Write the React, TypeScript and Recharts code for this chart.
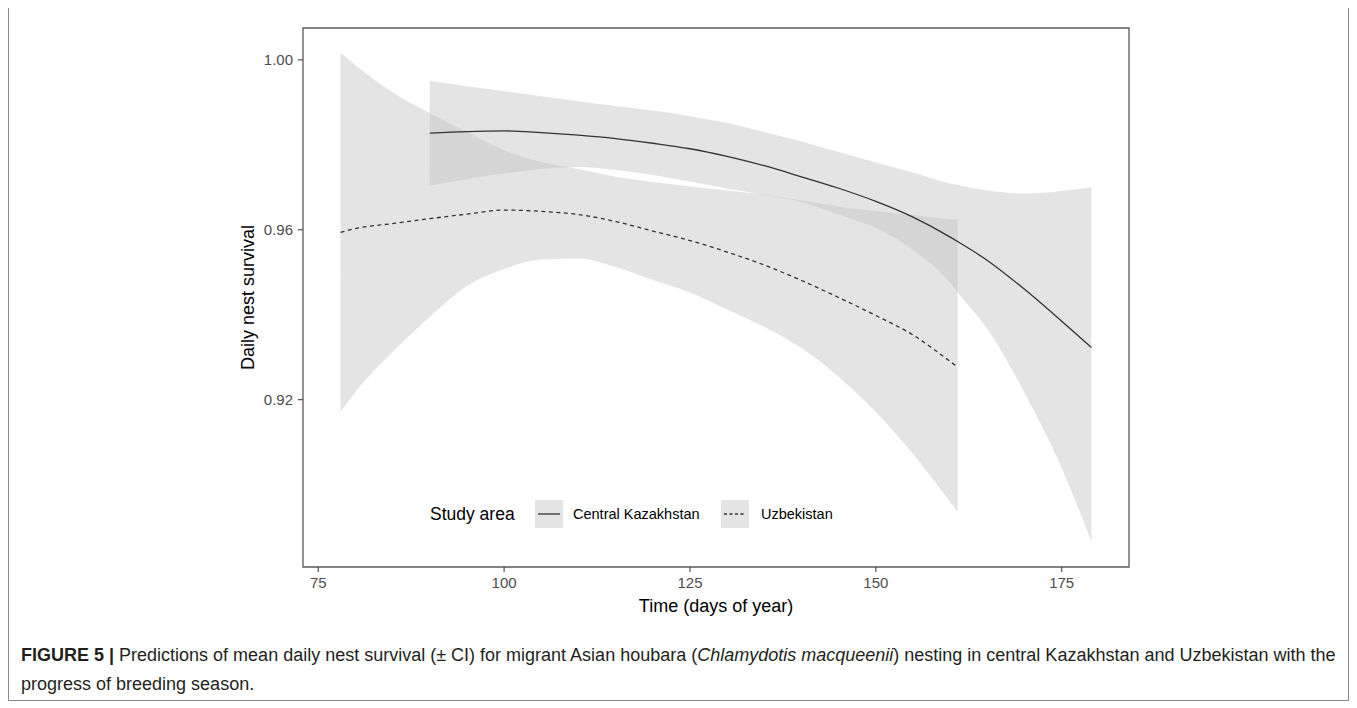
import React from 'react';
import { ComposedChart, Area, Line, XAxis, YAxis, ReferenceArea, Legend } from 'recharts';

// Central Kazakhstan: day of year, fitted daily nest survival, CI bounds
const kazDays = [90, 95, 100, 105, 110, 115, 120, 125, 130, 135, 140, 145, 150, 155, 160, 161, 165, 170, 175, 179];
const kazFit = [0.98275, 0.98311, 0.98327, 0.98287, 0.98227, 0.98147, 0.98037, 0.97907, 0.97727, 0.97507, 0.97247, 0.96977, 0.96667, 0.96297, 0.95827, 0.95722, 0.95277, 0.94597, 0.93847, 0.93227];
const kazUpper = [0.99506, 0.99381, 0.99264, 0.99146, 0.99028, 0.98915, 0.98805, 0.98675, 0.98511, 0.98299, 0.98075, 0.97828, 0.97581, 0.97346, 0.97087, 0.97052, 0.96922, 0.96852, 0.96911, 0.96998];
const kazLower = [0.97035, 0.97193, 0.97322, 0.97428, 0.97475, 0.97405, 0.97287, 0.97134, 0.96969, 0.96816, 0.96652, 0.96358, 0.9604, 0.95523, 0.94746, 0.9452, 0.93664, 0.92158, 0.90393, 0.88652];

// Uzbekistan
const uzbDays = [78, 80, 85, 90, 95, 100, 105, 110, 115, 120, 125, 130, 135, 140, 145, 150, 155, 160, 161];
const uzbFit = [0.95939, 0.96028, 0.96146, 0.96261, 0.96369, 0.96464, 0.96433, 0.96358, 0.96193, 0.95969, 0.95746, 0.95475, 0.95169, 0.94805, 0.94405, 0.93981, 0.93522, 0.92899, 0.92769];
const uzbUpper = [1.00174, 0.99875, 0.9924, 0.98746, 0.98299, 0.97875, 0.97593, 0.97428, 0.97245, 0.97122, 0.97016, 0.96927, 0.96828, 0.96687, 0.96546, 0.9644, 0.96346, 0.96245, 0.96228];
const uzbLower = [0.91718, 0.92181, 0.93122, 0.93946, 0.94675, 0.95075, 0.95299, 0.95322, 0.95122, 0.94816, 0.94522, 0.94122, 0.93711, 0.93216, 0.92534, 0.91711, 0.90722, 0.89593, 0.89358];

const seriesNames = ['Central Kazakhstan', 'Uzbekistan'];
const legendTitle = 'Study area';
const xTicks = [75, 100, 125, 150, 175];
const yTicks = [0.92, 0.96, 1.0];
const xTitle = 'Time (days of year)';
const yTitle = 'Daily nest survival';

const allDays = Array.from(new Set([...uzbDays, ...kazDays])).sort((a, b) => a - b);
const data = allDays.map((day) => {
  const row: any = { day };
  const ki = kazDays.indexOf(day);
  if (ki >= 0) {
    row.kazFit = kazFit[ki];
    row.kazBand = [kazLower[ki], kazUpper[ki]];
  }
  const ui = uzbDays.indexOf(day);
  if (ui >= 0) {
    row.uzbFit = uzbFit[ui];
    row.uzbBand = [uzbLower[ui], uzbUpper[ui]];
  }
  return row;
});

const FONT = '"Liberation Sans", Arial, Helvetica, sans-serif';
const X_DOMAIN: [number, number] = [72.95, 184.05];
const Y_DOMAIN: [number, number] = [0.8806, 1.0075];
const BAND_FILL = '#c4c4c4';
const BAND_OPACITY = 0.45;
const LINE_COLOR = '#333333';

const Swatch = ({ dashed }: { dashed: boolean }) => (
  <svg width={28} height={28} style={{ display: 'block' }}>
    <rect x={0} y={0} width={28} height={28} fill="#e4e4e4" />
    <line x1={3} y1={14} x2={25} y2={14} stroke={LINE_COLOR} strokeWidth={1.3} strokeDasharray={dashed ? '3 2.5' : undefined} />
  </svg>
);

const LegendBox = () => (
  <div style={{ position: 'relative', width: 420, height: 28, fontFamily: FONT, color: '#000' }}>
    <div style={{ position: 'absolute', left: 0, top: 0, lineHeight: '28px', fontSize: 17.5, whiteSpace: 'nowrap' }}>{legendTitle}</div>
    <div style={{ position: 'absolute', left: 105, top: 0 }}><Swatch dashed={false} /></div>
    <div style={{ position: 'absolute', left: 143, top: 0, lineHeight: '28px', fontSize: 14.5, whiteSpace: 'nowrap' }}>{seriesNames[0]}</div>
    <div style={{ position: 'absolute', left: 291, top: 0 }}><Swatch dashed={true} /></div>
    <div style={{ position: 'absolute', left: 331, top: 0, lineHeight: '28px', fontSize: 14.5, whiteSpace: 'nowrap' }}>{seriesNames[1]}</div>
  </div>
);

export default function App() {
  return (
    <div style={{ position: 'relative', top: -1, width: 1341, height: 694, fontFamily: FONT }}>
      <div style={{ position: 'absolute', left: 0, top: 0, width: 1341, height: 694, border: '1px solid #8a8a8a', boxSizing: 'border-box' }} />
      <div style={{ position: 'absolute', left: 0, top: 0 }}>
        <ComposedChart
          width={1341}
          height={620}
          data={data}
          margin={{ top: 21, right: 220, bottom: 15, left: 235 }}
          style={{ fontFamily: FONT }}
        >
          <XAxis
            dataKey="day"
            type="number"
            domain={X_DOMAIN}
            ticks={xTicks}
            allowDataOverflow
            axisLine={false}
            tickLine={{ stroke: '#444', strokeWidth: 1.1 }}
            tickSize={5}
            tickMargin={5}
            height={45}
            tick={{ fill: '#4d4d4d', fontSize: 15, fontFamily: FONT }}
            label={{ value: xTitle, position: 'insideBottom', offset: 0, fill: '#000', fontSize: 18, fontFamily: FONT }}
          />
          <YAxis
            type="number"
            domain={Y_DOMAIN}
            ticks={yTicks}
            allowDataOverflow
            axisLine={false}
            tickLine={{ stroke: '#444', strokeWidth: 1.1 }}
            tickSize={5}
            tickMargin={5}
            width={60}
            tickFormatter={(v: number) => v.toFixed(2)}
            tick={{ fill: '#4d4d4d', fontSize: 15, fontFamily: FONT }}
            label={{ value: yTitle, angle: -90, position: 'insideLeft', offset: 5, fill: '#000', fontSize: 18, fontFamily: FONT, style: { textAnchor: 'middle' } }}
          />
          <Area
            dataKey="uzbBand"
            type="monotone"
            stroke="none"
            fill={BAND_FILL}
            fillOpacity={BAND_OPACITY}
            connectNulls
            isAnimationActive={false}
            activeDot={false}
          />
          <Area
            dataKey="kazBand"
            type="monotone"
            stroke="none"
            fill={BAND_FILL}
            fillOpacity={BAND_OPACITY}
            connectNulls
            isAnimationActive={false}
            activeDot={false}
          />
          <Line
            dataKey="uzbFit"
            type="monotone"
            stroke={LINE_COLOR}
            strokeWidth={1.3}
            strokeDasharray="4 3.5"
            dot={false}
            connectNulls
            isAnimationActive={false}
          />
          <Line
            dataKey="kazFit"
            type="monotone"
            stroke={LINE_COLOR}
            strokeWidth={1.3}
            dot={false}
            connectNulls
            isAnimationActive={false}
          />
          <ReferenceArea
            x1={X_DOMAIN[0]}
            x2={X_DOMAIN[1]}
            y1={Y_DOMAIN[0]}
            y2={Y_DOMAIN[1]}
            fill="none"
            stroke="#5a5a5a"
            strokeWidth={1.3}
            ifOverflow="visible"
          />
          <Legend
            layout="horizontal"
            verticalAlign="middle"
            align="center"
            wrapperStyle={{ position: 'absolute', left: 422, top: 493, width: 420, height: 28 }}
            content={() => <LegendBox />}
          />
        </ComposedChart>
      </div>
      <div style={{ position: 'absolute', left: 13, top: 634, fontSize: 18, lineHeight: '29px', color: '#231f20', whiteSpace: 'nowrap' }}>
        <b>FIGURE 5 |</b> Predictions of mean daily nest survival (± CI) for migrant Asian houbara (<i>Chlamydotis macqueenii</i>) nesting in central Kazakhstan and Uzbekistan with the
        <br />
        progress of breeding season.
      </div>
    </div>
  );
}
